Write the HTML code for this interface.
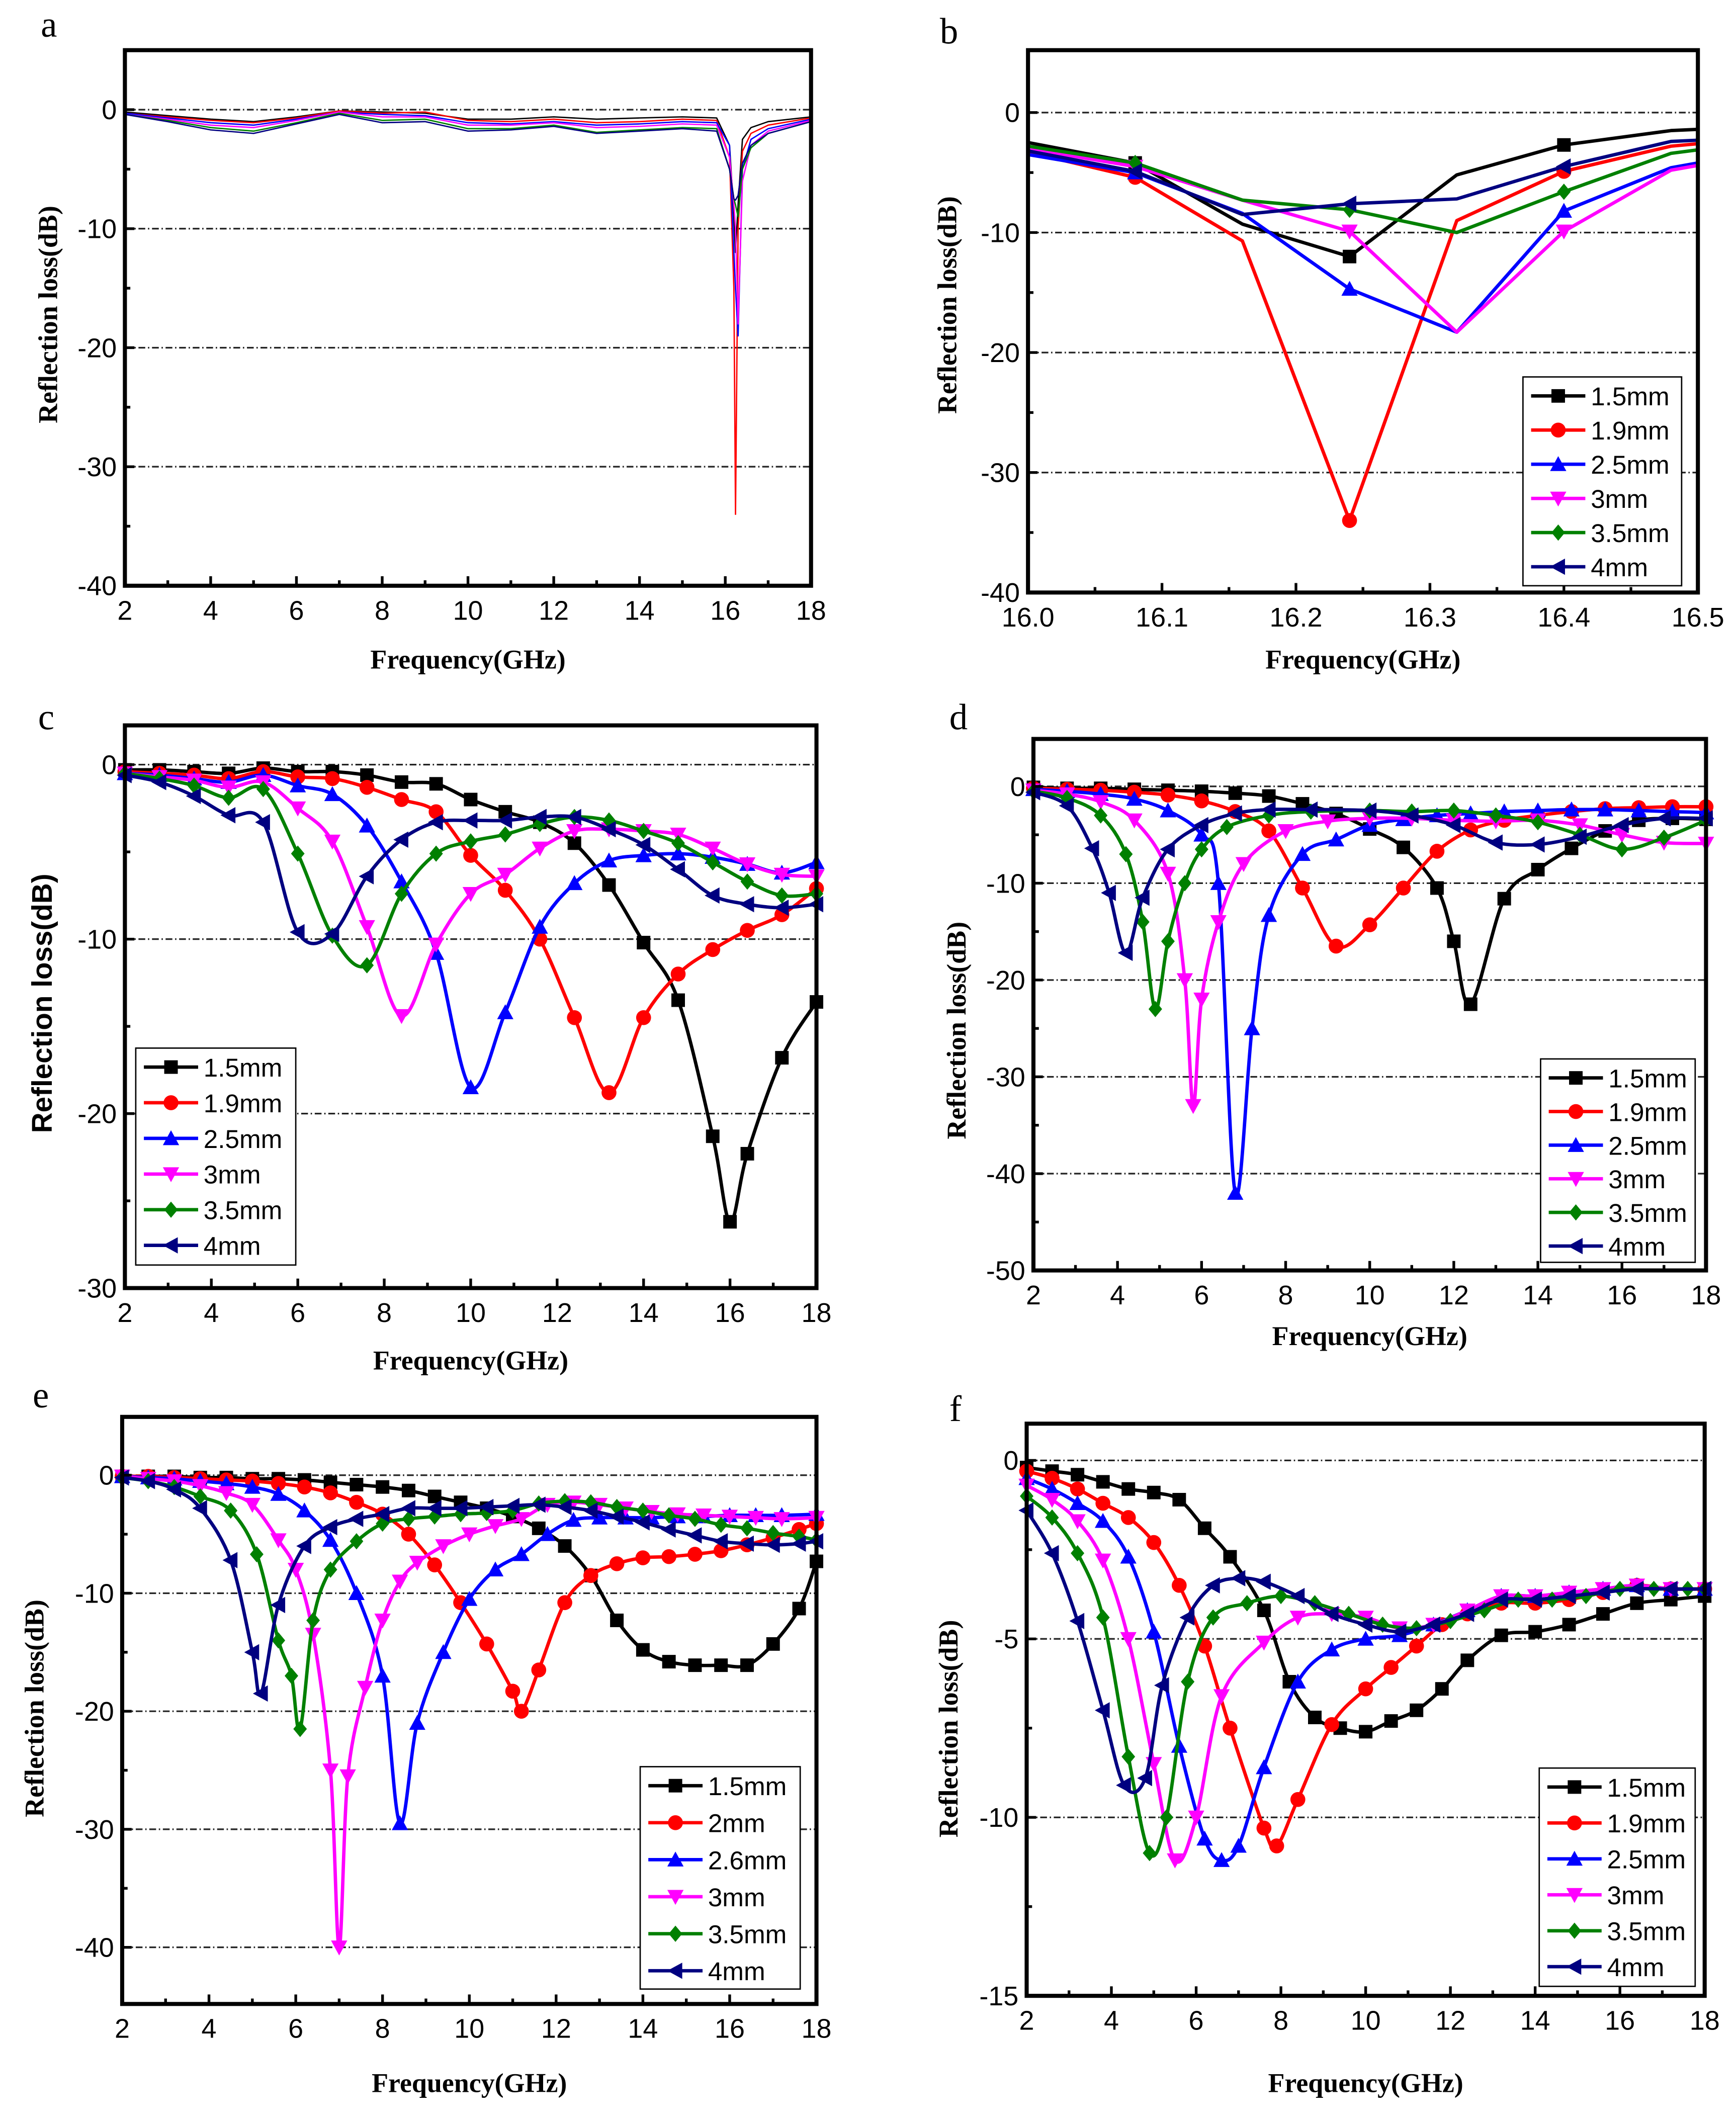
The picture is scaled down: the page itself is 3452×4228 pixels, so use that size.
<!DOCTYPE html>
<html><head><meta charset="utf-8"><style>
html,body{margin:0;padding:0;background:#fff}
svg{display:block}
.tk{font-family:"Liberation Sans",sans-serif;font-size:20px;fill:#000}
.ax{font-family:"Liberation Serif",serif;font-weight:bold;font-size:20px;fill:#000}
.lt{font-family:"Liberation Serif",serif;font-size:27px;fill:#000}
.lg{font-family:"Liberation Sans",sans-serif;font-size:19px;fill:#000}
</style></head><body>
<svg id="fig" width="3452" height="4228" viewBox="0 0 1280 1568" xmlns="http://www.w3.org/2000/svg"></svg>
<script>
// ---- data ----
const colors=['#000000','#ff0000','#0000ff','#ff00ff','#008000','#000080'];
const labelsStd=['1.5mm','1.9mm','2.5mm','3mm','3.5mm','4mm'];
const labelsE=['1.5mm','2mm','2.6mm','3mm','3.5mm','4mm'];

// panel a
const aX=[2,3,4,5,6,7,8,9,10,11,12,13,14,15,15.8,16.1,16.2,16.24,16.3,16.4,16.6,17,18];
const aY0=[-0.2,-0.5,-0.8,-1.0,-0.6,-0.1,-0.2,-0.3,-0.8,-0.8,-0.6,-0.8,-0.7,-0.6,-0.7,-3,-9,-12,-8,-2.5,-1.5,-1,-0.6];
const aY1=[-0.3,-0.6,-0.9,-1.1,-0.7,-0.1,-0.3,-0.2,-0.9,-1.0,-0.8,-1.1,-1.0,-0.8,-0.9,-4,-15,-34,-10,-3.5,-2,-1.3,-0.7];
const aY2=[-0.3,-0.7,-1.1,-1.3,-0.8,-0.2,-0.4,-0.5,-1.1,-1.2,-1.0,-1.3,-1.2,-1.0,-1.1,-3,-12,-15,-19,-5,-2.5,-1.6,-0.8];
const aY3=[-0.4,-0.8,-1.3,-1.5,-0.9,-0.2,-0.6,-0.6,-1.3,-1.3,-1.1,-1.5,-1.4,-1.2,-1.3,-4,-8,-10,-18,-6,-3,-1.8,-0.9];
const aY4=[-0.4,-0.9,-1.5,-1.8,-1.1,-0.3,-0.9,-0.8,-1.6,-1.6,-1.3,-1.9,-1.7,-1.5,-1.6,-5,-7.5,-8,-9,-5,-3.2,-2,-1.0];
const aY5=[-0.4,-1.0,-1.7,-2.0,-1.2,-0.4,-1.1,-1.0,-1.8,-1.7,-1.4,-2.0,-1.8,-1.6,-1.8,-5,-7.5,-7.6,-7.2,-4.5,-3,-2,-1.0];

// panel b
const bX=[16.0,16.08,16.16,16.24,16.32,16.4,16.48,16.5];
const bY0=[-2.5,-4.2,-9.3,-12,-5.2,-2.7,-1.5,-1.4];
const bY1=[-3.3,-5.4,-10.7,-34,-9,-4.9,-2.8,-2.6];
const bY2=[-3.5,-5.0,-8.4,-14.7,-18.3,-8.2,-4.6,-4.2];
const bY3=[-3.0,-4.5,-7.3,-9.9,-18.3,-9.9,-4.8,-4.4];
const bY4=[-2.8,-4.2,-7.3,-8.1,-10,-6.6,-3.4,-3.1];
const bY5=[-3.2,-4.9,-8.5,-7.6,-7.2,-4.5,-2.4,-2.3];

// panel c
const cX=[2,2.8,3.6,4.4,5.2,6,6.8,7.6,8.4,9.2,10,10.8,11.6,12.4,13.2,14,14.8,15.6,16.4,17.2,18];
const cX0=[2,2.8,3.6,4.4,5.2,6,6.8,7.6,8.4,9.2,10,10.8,11.6,12.4,13.2,14,14.8,15.6,16,16.4,17.2,18];
const cY0=[-0.3,-0.3,-0.4,-0.5,-0.2,-0.4,-0.4,-0.6,-1,-1.1,-2,-2.7,-3.3,-4.5,-6.9,-10.2,-13.5,-21.3,-26.2,-22.3,-16.8,-13.6];
const cY1=[-0.4,-0.5,-0.6,-0.8,-0.4,-0.7,-0.8,-1.3,-2,-2.7,-5.2,-7.2,-10,-14.5,-18.8,-14.5,-12,-10.6,-9.5,-8.6,-7.1];
const cY2=[-0.5,-0.6,-0.8,-1.0,-0.6,-1.2,-1.7,-3.5,-6.7,-10.8,-18.5,-14.2,-9.3,-6.8,-5.5,-5.2,-5.1,-5.3,-5.7,-6.2,-5.6];
const cY3=[-0.5,-0.7,-0.9,-1.3,-1,-2.5,-4.4,-9.3,-14.4,-10.3,-7.4,-6.3,-4.8,-3.8,-3.7,-3.8,-4,-4.8,-5.7,-6.3,-6.4];
const cY4=[-0.5,-0.8,-1.2,-1.9,-1.4,-5.1,-9.8,-11.5,-7.4,-5.1,-4.4,-4.0,-3.4,-3.0,-3.2,-3.8,-4.5,-5.6,-6.7,-7.5,-7.4];
const cY5=[-0.6,-1,-1.8,-2.9,-3.3,-9.6,-9.7,-6.4,-4.3,-3.3,-3.2,-3.2,-3,-3,-3.7,-4.6,-6,-7.5,-8,-8.2,-8.0];

// panel d
const dX0=[2,2.8,3.6,4.4,5.2,6,6.8,7.6,8.4,9.2,10,10.8,11.6,12,12.4,13.2,14,14.8,15.6,16.4,17.2,18];
const dY0=[-0.1,-0.2,-0.2,-0.3,-0.4,-0.5,-0.7,-1,-1.8,-2.8,-4.4,-6.3,-10.5,-16,-22.5,-11.6,-8.6,-6.4,-4.6,-3.5,-3.3,-3.4];
const dX1=[2,2.8,3.6,4.4,5.2,6,6.8,7.6,8.4,9.2,10,10.8,11.6,12.4,13.2,14,14.8,15.6,16.4,17.2,18];
const dY1=[-0.2,-0.3,-0.4,-0.6,-0.9,-1.5,-2.6,-4.6,-10.5,-16.5,-14.3,-10.5,-6.7,-4.5,-3.5,-3,-2.6,-2.3,-2.2,-2.1,-2.1];
const dX2=[2,2.8,3.6,4.4,5.2,6,6.4,6.8,7.2,7.6,8.4,9.2,10,10.8,11.6,12.4,13.2,14,14.8,15.6,16.4,17.2,18];
const dY2=[-0.3,-0.5,-0.8,-1.3,-2.5,-5,-10,-42,-25,-13.3,-7,-5.5,-4,-3.4,-3,-2.8,-2.6,-2.5,-2.4,-2.4,-2.5,-2.6,-2.7];
const dX3=[2,2.8,3.6,4.4,5.2,5.6,5.8,6,6.4,7,8,9,10,11,12,13,14,15,16,17,18];
const dY3=[-0.4,-0.8,-1.6,-3.5,-9,-20,-33,-22,-14,-8,-4.6,-3.6,-3.3,-3.3,-3.5,-3.6,-3.5,-4,-5,-5.8,-5.9];
const dX4=[2,2.8,3.6,4.2,4.6,4.9,5.2,5.6,6,6.6,7.6,8.6,10,11,12,13,14,15,16,17,18];
const dY4=[-0.5,-1.2,-3,-7,-14,-23,-16,-10,-6.5,-4.2,-3,-2.6,-2.5,-2.6,-2.5,-3,-3.7,-5,-6.5,-5.3,-3.5];
const dX5=[2,2.8,3.4,3.8,4.2,4.6,5.2,6,6.8,7.6,8.6,10,11,12,13,14,15,16,17,18];
const dY5=[-0.6,-2,-6.4,-11,-17.2,-11.5,-6.5,-4,-2.8,-2.4,-2.4,-2.5,-3,-4,-5.8,-6,-5.2,-4,-3.3,-3.3];

// panel e
const eX0=[2,2.6,3.2,3.8,4.4,5,5.6,6.2,6.8,7.4,8,8.6,9.2,9.8,10.4,11,11.6,12.2,12.8,13.4,14,14.6,15.2,15.8,16.4,17,17.6,18];
const eY0=[-0.1,-0.1,-0.1,-0.2,-0.2,-0.3,-0.3,-0.4,-0.6,-0.8,-1,-1.3,-1.8,-2.3,-2.8,-3.5,-4.5,-6,-8.5,-12.3,-14.8,-15.8,-16.1,-16.1,-16.1,-14.3,-11.3,-7.3];
const eX1=[2,2.6,3.2,3.8,4.4,5,5.6,6.2,6.8,7.4,8,8.6,9.2,9.8,10.4,11,11.2,11.6,12.2,12.8,13.4,14,14.6,15.2,15.8,16.4,17,17.6,18];
const eY1=[-0.1,-0.1,-0.2,-0.3,-0.4,-0.5,-0.7,-1,-1.5,-2.3,-3.3,-5,-7.6,-10.8,-14.3,-18.3,-20,-16.5,-10.8,-8.5,-7.5,-7,-6.9,-6.7,-6.4,-5.9,-5.3,-4.6,-4.1];
const eX2=[2,2.6,3.2,3.8,4.4,5,5.6,6.2,6.8,7.4,8,8.4,8.8,9.4,10,10.6,11.2,11.8,12.4,13,13.6,14.2,14.8,15.4,16,16.6,17.2,18];
const eY2=[-0.1,-0.2,-0.3,-0.5,-0.7,-1,-1.6,-3,-5.5,-10,-17,-29.5,-21,-15,-10.5,-8,-6.7,-5,-3.8,-3.6,-3.6,-3.6,-3.5,-3.5,-3.4,-3.4,-3.4,-3.3];
const eX3=[2,2.6,3.2,3.8,4.4,5,5.6,6,6.4,6.8,7,7.2,7.6,8,8.4,8.8,9.4,10,10.6,11.2,11.8,12.4,13,13.6,14.2,14.8,15.4,16,16.6,17.2,18];
const eY3=[-0.1,-0.3,-0.5,-0.9,-1.5,-2.5,-5.5,-8,-13.5,-25,-40,-25.5,-18,-12.3,-9,-7.4,-6,-5,-4.3,-3.7,-2.5,-2.3,-2.5,-2.8,-3.1,-3.3,-3.4,-3.5,-3.6,-3.7,-3.6];
const eX4=[2,2.6,3.2,3.8,4.5,5.1,5.6,5.9,6.1,6.4,6.8,7.4,8,8.6,9.2,9.8,10.4,11,11.6,12.2,12.8,13.4,14,14.6,15.2,15.8,16.4,17,17.6,18];
const eY4=[-0.2,-0.5,-1,-1.8,-3,-6.7,-14,-17,-21.5,-12.3,-8,-5.6,-4.1,-3.7,-3.5,-3.3,-3.2,-3,-2.4,-2.2,-2.3,-2.7,-3,-3.4,-3.7,-4.2,-4.5,-4.9,-5.2,-5.5];
const eX5=[2,2.6,3.2,3.8,4.5,5,5.2,5.6,6.2,6.8,7.4,8,8.6,9.2,9.8,10.4,11,11.6,12.2,12.8,13.4,14,14.6,15.2,15.8,16.4,17,17.6,18];
const eY5=[-0.2,-0.5,-1.2,-2.8,-7.2,-15,-18.5,-11,-6,-4.4,-3.7,-3.3,-2.8,-2.8,-2.8,-2.7,-2.6,-2.5,-2.7,-3,-3.5,-4,-4.6,-5.1,-5.6,-5.8,-5.9,-5.8,-5.6];

// panel f
const fX0=[2,2.6,3.2,3.8,4.4,5,5.6,6.2,6.8,7.6,8.2,8.8,9.4,10,10.6,11.2,11.8,12.4,13.2,14,14.8,15.6,16.4,17.2,18];
const fY0=[-0.2,-0.3,-0.4,-0.6,-0.8,-0.9,-1.1,-1.9,-2.7,-4.2,-6.2,-7.2,-7.5,-7.6,-7.3,-7,-6.4,-5.6,-4.9,-4.8,-4.6,-4.3,-4,-3.9,-3.8];
const fX1=[2,2.6,3.2,3.8,4.4,5,5.6,6.2,6.8,7.6,7.9,8.4,9.2,10,10.6,11.2,11.8,12.4,13.2,14,14.8,15.6,16.4,17.2,18];
const fY1=[-0.3,-0.5,-0.8,-1.2,-1.6,-2.3,-3.5,-5.2,-7.5,-10.3,-10.8,-9.5,-7.4,-6.4,-5.8,-5.2,-4.6,-4.3,-4,-4,-3.9,-3.7,-3.5,-3.6,-3.6];
const fX2=[2,2.6,3.2,3.8,4.4,5,5.6,6.2,6.6,7,7.6,8.4,9.2,10,10.8,11.6,12.4,13.2,14,14.8,15.6,16.4,17.2,18];
const fY2=[-0.5,-0.8,-1.2,-1.7,-2.7,-4.8,-8,-10.6,-11.2,-10.8,-8.6,-6.2,-5.3,-5,-4.9,-4.6,-4.2,-3.8,-3.8,-3.7,-3.6,-3.5,-3.6,-3.6];
const fX3=[2,2.6,3.2,3.8,4.4,5,5.5,6,6.6,7.6,8.4,9.2,10,10.8,11.6,12.4,13.2,14,14.8,15.6,16.4,17.2,18];
const fY3=[-0.7,-1.1,-1.7,-2.8,-5,-8.5,-11.2,-10,-6.6,-5.1,-4.4,-4.3,-4.4,-4.7,-4.6,-4.2,-3.8,-3.8,-3.7,-3.6,-3.5,-3.6,-3.6];
const fX4=[2,2.6,3.2,3.8,4.4,4.9,5.3,5.8,6.4,7.2,8,8.8,9.6,10.4,11.2,12,12.8,13.6,14.4,15.2,16,16.8,17.6,18];
const fY4=[-1,-1.6,-2.6,-4.4,-8.3,-11,-10,-6.2,-4.4,-4,-3.8,-4,-4.3,-4.6,-4.7,-4.5,-4.2,-3.9,-3.9,-3.8,-3.6,-3.6,-3.6,-3.6];
const fX5=[2,2.6,3.2,3.8,4.3,4.8,5.2,5.8,6.4,7,7.6,8.4,9.2,10,10.8,11.6,12.4,13.2,14,14.8,15.6,16.4,17.2,18];
const fY5=[-1.4,-2.6,-4.5,-7,-9.1,-8.9,-6.3,-4.4,-3.5,-3.3,-3.4,-3.8,-4.3,-4.6,-4.8,-4.6,-4.3,-3.9,-3.9,-3.8,-3.7,-3.6,-3.6,-3.6];

const xt218=[2,4,6,8,10,12,14,16,18];
const xtB=[16.0,16.1,16.2,16.3,16.4,16.5];
const xtBLabels=['16.0','16.1','16.2','16.3','16.4','16.5'];

// ---- drawing ----
const NS='http://www.w3.org/2000/svg';
const svg=document.getElementById('fig');
function mk(tag,attrs,parent){const e=document.createElementNS(NS,tag);for(const k in attrs)e.setAttribute(k,attrs[k]);(parent||svg).appendChild(e);return e;}

function marker(g,type,x,y,c){
  const r=5;let e;
  if(type===0){e=mk('rect',{x:x-r,y:y-r,width:2*r,height:2*r,fill:c},g);}
  else if(type===1){e=mk('circle',{cx:x,cy:y,r:r+0.5,fill:c},g);}
  else if(type===2){e=mk('polygon',{points:`${x},${y-r-1} ${x-r-1},${y+r} ${x+r+1},${y+r}`,fill:c},g);}
  else if(type===3){e=mk('polygon',{points:`${x},${y+r+1} ${x-r-1},${y-r} ${x+r+1},${y-r}`,fill:c},g);}
  else if(type===4){e=mk('polygon',{points:`${x},${y-r-1} ${x+r},${y} ${x},${y+r+1} ${x-r},${y}`,fill:c},g);}
  else {e=mk('polygon',{points:`${x-r-1},${y} ${x+r},${y-r-1} ${x+r},${y+r+1}`,fill:c},g);}
  
  
}

function pathFor(pts,smooth){
  if(!smooth)return 'M'+pts.map(p=>p[0].toFixed(1)+','+p[1].toFixed(1)).join(' L');
  let d='M'+pts[0][0]+','+pts[0][1];
  for(let i=0;i<pts.length-1;i++){
    const p0=pts[Math.max(0,i-1)],p1=pts[i],p2=pts[i+1],p3=pts[Math.min(pts.length-1,i+2)];
    const c1=[p1[0]+(p2[0]-p0[0])/6,p1[1]+(p2[1]-p0[1])/6];
    const c2=[p2[0]-(p3[0]-p1[0])/6,p2[1]-(p3[1]-p1[1])/6];
    d+=` C${c1[0].toFixed(1)},${c1[1].toFixed(1)} ${c2[0].toFixed(1)},${c2[1].toFixed(1)} ${p2[0].toFixed(1)},${p2[1].toFixed(1)}`;
  }
  return d;
}

function panel(P){
  const g=mk('g',{});
  
  
  const [x0,y0,x1,y1]=P.box;
  const sx=v=>x0+(v-P.xr[0])/(P.xr[1]-P.xr[0])*(x1-x0);
  const sy=v=>y0+(P.yr[0]-v)/(P.yr[0]-P.yr[1])*(y1-y0);
  P.grid.forEach(v=>{const l=mk('line',{x1:x0,x2:x1,y1:sy(v),y2:sy(v),stroke:'#222','stroke-width':1.2,'stroke-dasharray':'5,2,1,2'},g);
    });
  const clip='clip-'+P.id;
  const cp=mk('clipPath',{id:clip},g);mk('rect',{x:x0,y:y0,width:x1-x0,height:y1-y0},cp);
  P.series.forEach((s,i)=>{
    const pts=s[0].map((x,j)=>[sx(x),sy(s[1][j])]);
    const p=mk('path',{d:pathFor(pts,P.smooth),fill:'none',stroke:colors[i],'stroke-width':P.lw,'stroke-linejoin':'round','clip-path':`url(#${clip})`},g);
    
    
    if(P.markers){
      s[0].forEach((x,j)=>{ if(P.markFilter && !P.markFilter(x))return; marker(g,i,sx(x),sy(s[1][j]),colors[i]); });
    }
  });
  const fr=mk('rect',{x:x0,y:y0,width:x1-x0,height:y1-y0,fill:'none',stroke:'#000','stroke-width':3},g);
  
  P.xticks.forEach((v,k)=>{
    const X=sx(v);
    mk('line',{x1:X,x2:X,y1:y1,y2:y1-7,stroke:'#000','stroke-width':2},g);
    const t=mk('text',{x:X,y:y1+25,'text-anchor':'middle',class:'tk'},g);
    t.textContent=P.xlabels?P.xlabels[k]:String(v);
    
    if(k<P.xticks.length-1){const m=sx((v+P.xticks[k+1])/2);mk('line',{x1:m,x2:m,y1:y1,y2:y1-4,stroke:'#000','stroke-width':2},g);}
  });
  P.yticks.forEach((v,k)=>{
    const Y=sy(v);
    mk('line',{x1:x0,x2:x0+7,y1:Y,y2:Y,stroke:'#000','stroke-width':2},g);
    const t=mk('text',{x:x0-6,y:Y+7,'text-anchor':'end',class:'tk'},g);
    t.textContent=String(v);
    
    if(k<P.yticks.length-1){const m=sy((v+P.yticks[k+1])/2);mk('line',{x1:x0,x2:x0+4,y1:m,y2:m,stroke:'#000','stroke-width':2},g);}
  });
  const xt=mk('text',{x:(x0+x1)/2,y:P.xtitleY,'text-anchor':'middle',class:'ax'},g);
  xt.textContent='Frequency(GHz)';
  
  const yt=mk('text',{x:0,y:0,'text-anchor':'middle',class:'ax',transform:`translate(${P.ytitleX},${P.ytitleC}) rotate(-90)`},g);
  yt.textContent='Reflection loss(dB)';
  if(P.ysans){yt.setAttribute('style','font-family:"Liberation Sans",sans-serif;font-size:21px');}
  
  const lt=mk('text',{x:P.letter[0],y:P.letter[1],class:'lt'},g);
  lt.textContent=P.id;
  
  if(P.legend){
    const [lx,ly,lw,lh,dy]=P.legend;
    const lg=mk('g',{},g);
    
    mk('rect',{x:lx,y:ly,width:lw,height:lh,fill:'#fff',stroke:'#000','stroke-width':1},lg);
    P.labels.forEach((lab,i)=>{
      const yy=ly+14+i*dy;
      const e=mk('g',{},lg);
      
      mk('line',{x1:lx+6,x2:lx+46,y1:yy,y2:yy,stroke:colors[i],'stroke-width':2.5},e);
      marker(e,i,lx+26,yy,colors[i]);
      const t=mk('text',{x:lx+50,y:yy+7,class:'lg'},e);t.textContent=lab;
    });
  }
}

panel({id:'a',box:[92,37,598,432],xr:[2,18],yr:[5,-40],xticks:xt218,yticks:[0,-10,-20,-30,-40],grid:[0,-10,-20,-30],
  series:[[aX,aY0],[aX,aY1],[aX,aY2],[aX,aY3],[aX,aY4],[aX,aY5]],smooth:false,markers:false,lw:1,labels:labelsStd,
  xtitleY:493,ytitleX:42,ytitleC:232,letter:[30,27]});
panel({id:'b',box:[758,37,1252,437],xr:[16,16.5],yr:[5.2,-40],xticks:xtB,xlabels:xtBLabels,yticks:[0,-10,-20,-30,-40],grid:[0,-10,-20,-30],
  series:[[bX,bY0],[bX,bY1],[bX,bY2],[bX,bY3],[bX,bY4],[bX,bY5]],smooth:false,markers:true,markFilter:x=>[16.08,16.24,16.4].includes(x),lw:2.5,labels:labelsStd,
  legend:[1123,278,117,154,25.2],xtitleY:493,ytitleX:705,ytitleC:225,letter:[693,32]});
panel({id:'c',box:[92,535,602,950],xr:[2,18],yr:[2.25,-30],xticks:xt218,yticks:[0,-10,-20,-30],grid:[0,-10,-20],
  series:[[cX0,cY0],[cX,cY1],[cX,cY2],[cX,cY3],[cX,cY4],[cX,cY5]],smooth:true,markers:true,lw:2.5,labels:labelsStd,ysans:true,
  legend:[100,773,118,160,26.3],xtitleY:1010,ytitleX:38,ytitleC:740,letter:[28,538]});
panel({id:'d',box:[762,545,1258,937],xr:[2,18],yr:[4.9,-50],xticks:xt218,yticks:[0,-10,-20,-30,-40,-50],grid:[0,-10,-20,-30,-40],
  series:[[dX0,dY0],[dX1,dY1],[dX2,dY2],[dX3,dY3],[dX4,dY4],[dX5,dY5]],smooth:true,markers:true,lw:2.5,labels:labelsStd,
  legend:[1136,781,114,150,24.8],xtitleY:992,ytitleX:712,ytitleC:760,letter:[700,538]});
panel({id:'e',box:[90,1045,602,1478],xr:[2,18],yr:[4.94,-44.8],xticks:xt218,yticks:[0,-10,-20,-30,-40],grid:[0,-10,-20,-30,-40],
  series:[[eX0,eY0],[eX1,eY1],[eX2,eY2],[eX3,eY3],[eX4,eY4],[eX5,eY5]],smooth:true,markers:true,lw:2.5,labels:labelsE,
  legend:[472,1303,118,164,27.3],xtitleY:1543,ytitleX:32,ytitleC:1260,letter:[24,1038]});
panel({id:'f',box:[757,1050,1257,1472],xr:[2,18],yr:[1.03,-15],xticks:xt218,yticks:[0,-5,-10,-15],grid:[0,-5,-10],
  series:[[fX0,fY0],[fX1,fY1],[fX2,fY2],[fX3,fY3],[fX4,fY4],[fX5,fY5]],smooth:true,markers:true,lw:2.5,labels:labelsStd,
  legend:[1135,1304,115,161,26.5],xtitleY:1543,ytitleX:706,ytitleC:1275,letter:[700,1048]});
</script>
</body></html>
